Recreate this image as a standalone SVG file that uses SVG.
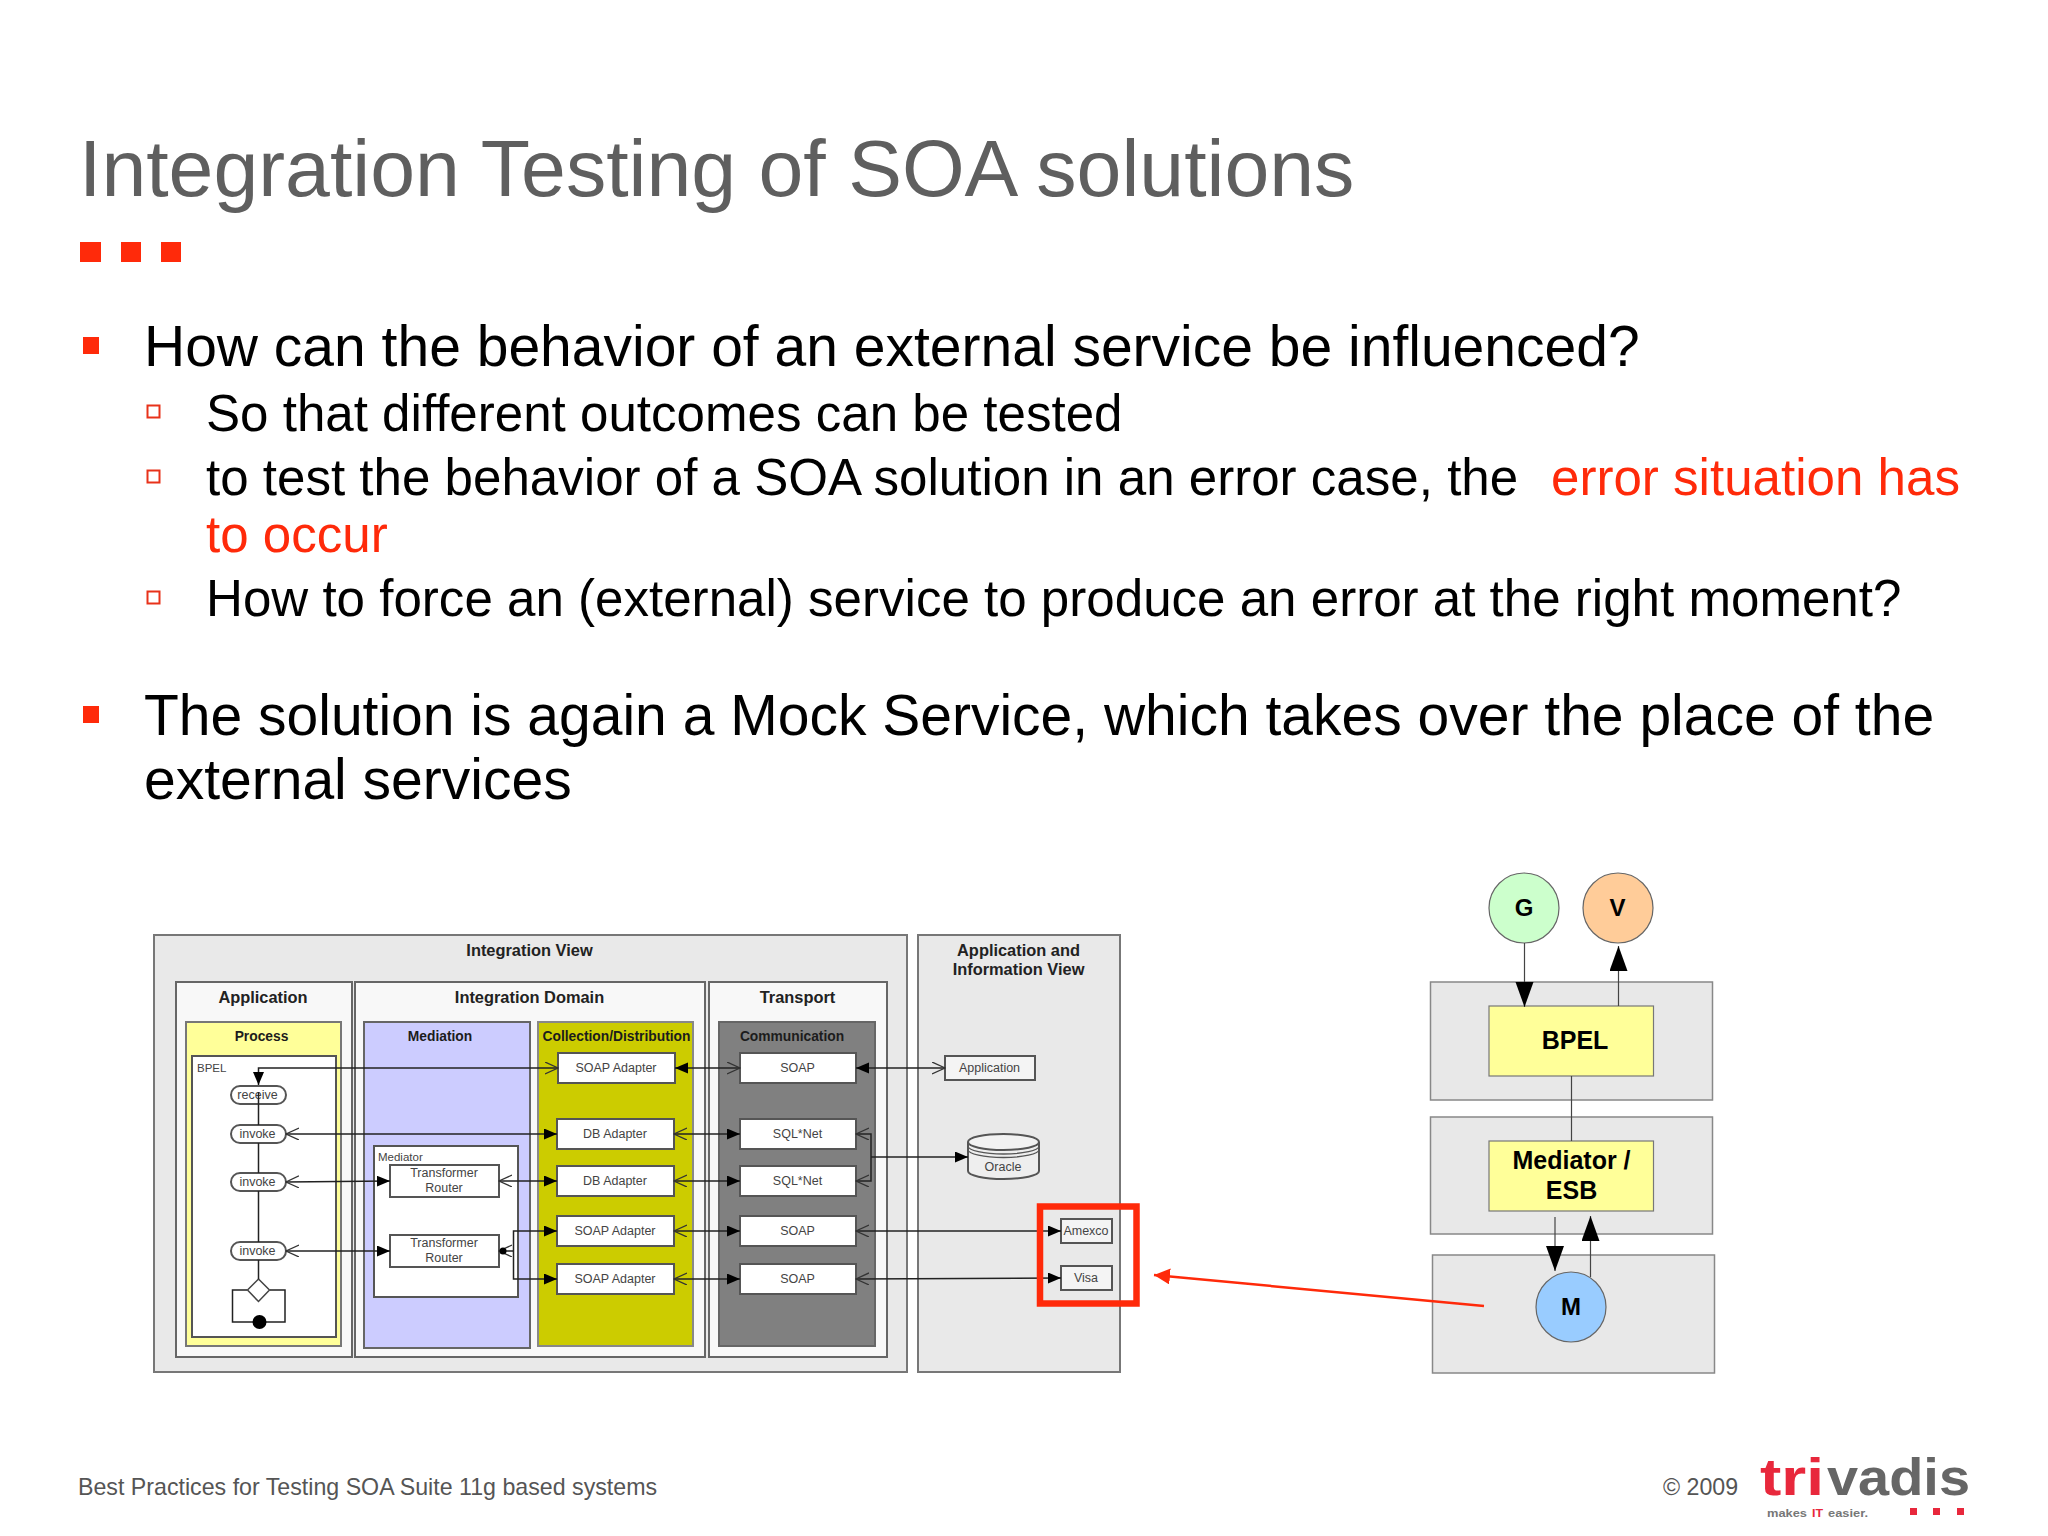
<svg xmlns="http://www.w3.org/2000/svg" width="2048" height="1536" viewBox="0 0 2048 1536">
<style>
text{font-family:"Liberation Sans",Arial,sans-serif}
.title{font-size:80.6px;fill:#5f5f5f}
.b1{font-size:57px;fill:#000}
.b2{font-size:51.1px;fill:#000}
.red{fill:#ff2a0a}
.foot{font-size:23.2px;fill:#555}
.pan{fill:#e9e9e9;stroke:#777;stroke-width:2}
.sub{fill:#f8f8f8;stroke:#666;stroke-width:2}
.box{fill:#fff;stroke:#555;stroke-width:2}
.ibox{fill:#f4f4f4;stroke:#555;stroke-width:2}
.hd{font-size:16.4px;font-weight:bold;fill:#222;text-anchor:middle}
.sh{font-size:13.8px;font-weight:bold;fill:#1c1c1c;text-anchor:middle}
.lb{font-size:12.5px;fill:#444;text-anchor:middle}
.lbl{font-size:11.5px;fill:#444}
.rp{fill:#e8e8e8;stroke:#888;stroke-width:1.5}
.ry{fill:#ffff99;stroke:#777;stroke-width:1.2}
.rc{stroke:#666;stroke-width:1.2}
.rt{font-size:25px;font-weight:bold;fill:#000;text-anchor:middle}
.rs{font-size:24px;font-weight:bold;fill:#000;text-anchor:middle}
.c{fill:none;stroke:#222;stroke-width:1.5}
.rl{fill:none;stroke:#444;stroke-width:1.2}
.logo{font-size:52px;font-weight:bold}
.tag{font-size:11.5px;font-weight:bold}
</style>
<defs>
<marker id="fa" markerUnits="userSpaceOnUse" markerWidth="14" markerHeight="12" refX="13" refY="5.5" orient="auto-start-reverse"><path d="M0 0L13 5.5L0 11z" fill="#000"/></marker>
<marker id="oa" markerUnits="userSpaceOnUse" markerWidth="14" markerHeight="14" refX="13" refY="6" orient="auto-start-reverse"><path d="M0 0L13 6L0 12" fill="none" stroke="#333" stroke-width="1.3"/></marker>
<marker id="ba" markerUnits="userSpaceOnUse" markerWidth="26" markerHeight="20" refX="25" refY="9" orient="auto-start-reverse"><path d="M0 0L25 9L0 18z" fill="#000"/></marker>
<marker id="ra" markerUnits="userSpaceOnUse" markerWidth="18" markerHeight="18" refX="16" refY="8" orient="auto"><path d="M0 0L16 8L0 16z" fill="#ff2a0a"/></marker>
</defs>

<g id="slide-title">
<text class="title" x="79" y="196">Integration Testing of SOA solutions</text>
<rect class="red" x="80" y="242" width="21" height="20"/><rect class="red" x="121" y="242" width="20" height="20"/><rect class="red" x="161" y="242" width="20" height="20"/>
</g>
<g id="slide-text">
<rect class="red" x="83" y="337" width="16" height="17"/>
<text class="b1" x="144" y="366">How can the behavior of an external service be influenced?</text>
<rect x="147.500" y="405.500" width="12" height="12" fill="none" stroke="#e8321a" stroke-width="2"/>
<text class="b2" x="206" y="431">So that different outcomes can be tested</text>
<rect x="147.500" y="470.500" width="12" height="12" fill="none" stroke="#e8321a" stroke-width="2"/>
<text class="b2" x="206" y="495">to test the behavior of a SOA solution in an error case, the</text>
<text class="b2 red" x="1551" y="495" style="fill:#ff2a0a">error situation has</text>
<text class="b2 red" x="206" y="552" style="fill:#ff2a0a">to occur</text>
<rect x="147.500" y="591.500" width="12" height="12" fill="none" stroke="#e8321a" stroke-width="2"/>
<text class="b2" x="206" y="616">How to force an (external) service to produce an error at the right moment?</text>
<rect class="red" x="83" y="706" width="16" height="17"/>
<text class="b1" x="144" y="735">The solution is again a Mock Service, which takes over the place of the</text>
<text class="b1" x="144" y="799">external services</text>
</g>

<g id="integration-view">
<rect class="pan" x="154" y="935" width="753" height="437"/>
<text class="hd" x="529.500" y="956">Integration View</text>
</g>
<g id="application">
<rect class="sub" x="176" y="982" width="176" height="375"/>
<text class="hd" x="263" y="1003">Application</text>
</g>
<g id="integration-domain">
<rect class="sub" x="355" y="982" width="350" height="375"/>
<text class="hd" x="529.500" y="1003">Integration Domain</text>
</g>
<g id="transport">
<rect class="sub" x="709" y="982" width="178" height="375"/>
<text class="hd" x="797.500" y="1003">Transport</text>
</g>
<g id="process">
<rect x="186" y="1022" width="155" height="324" fill="#ffff99" stroke="#777" stroke-width="2"/>
<text class="sh" x="261.500" y="1041">Process</text>
</g>
<g id="bpel-panel">
<rect x="192" y="1056" width="144" height="281" fill="#fff" stroke="#555" stroke-width="2"/>
<text class="lbl" x="197" y="1072">BPEL</text>
</g>
<g id="mediation">
<rect x="364" y="1022" width="166" height="326" fill="#ccccff" stroke="#666" stroke-width="2"/>
<text class="sh" x="440" y="1041">Mediation</text>
</g>
<g id="collection">
<rect x="538" y="1022" width="155" height="324" fill="#cccc00" stroke="#888" stroke-width="2"/>
<text class="sh" x="616.500" y="1041">Collection/Distribution</text>
</g>
<g id="communication">
<rect x="719" y="1022" width="156" height="324" fill="#808080" stroke="#666" stroke-width="2"/>
<text class="sh" x="792" y="1041">Communication</text>
</g>
<g id="mediator">
<rect x="374" y="1146" width="144" height="151" fill="#fff" stroke="#555" stroke-width="2"/>
<text class="lbl" x="378" y="1161">Mediator</text>
</g>
<g id="transformer1"><rect class="box" x="390" y="1165" width="109" height="32"/><text class="lb" x="444" y="1177">Transformer</text><text class="lb" x="444" y="1192">Router</text></g>
<g id="transformer2"><rect class="box" x="390" y="1235" width="109" height="32"/><text class="lb" x="444" y="1247">Transformer</text><text class="lb" x="444" y="1262">Router</text></g>

<g id="receive"><rect class="box" x="231" y="1086" width="55" height="18" rx="9"/><text class="lb" x="257.500" y="1099">receive</text></g>
<g id="invoke1"><rect class="box" x="231" y="1125" width="55" height="18" rx="9"/><text class="lb" x="257.500" y="1138">invoke</text></g>
<g id="invoke2"><rect class="box" x="231" y="1173" width="55" height="18" rx="9"/><text class="lb" x="257.500" y="1186">invoke</text></g>
<g id="invoke3"><rect class="box" x="231" y="1242" width="55" height="18" rx="9"/><text class="lb" x="257.500" y="1255">invoke</text></g>

<g id="adapter1"><rect class="box" x="558" y="1053" width="117" height="30"/><text class="lb" x="616" y="1072">SOAP Adapter</text></g>
<g id="adapter2"><rect class="box" x="557" y="1119" width="117" height="30"/><text class="lb" x="615" y="1138">DB Adapter</text></g>
<g id="adapter3"><rect class="box" x="557" y="1166" width="117" height="30"/><text class="lb" x="615" y="1185">DB Adapter</text></g>
<g id="adapter4"><rect class="box" x="557" y="1216" width="117" height="30"/><text class="lb" x="615" y="1235">SOAP Adapter</text></g>
<g id="adapter5"><rect class="box" x="557" y="1264" width="117" height="30"/><text class="lb" x="615" y="1283">SOAP Adapter</text></g>

<g id="comm1"><rect class="box" x="740" y="1053" width="116" height="30"/><text class="lb" x="797.500" y="1072">SOAP</text></g>
<g id="comm2"><rect class="box" x="740" y="1119" width="116" height="30"/><text class="lb" x="797.500" y="1138">SQL*Net</text></g>
<g id="comm3"><rect class="box" x="740" y="1166" width="116" height="30"/><text class="lb" x="797.500" y="1185">SQL*Net</text></g>
<g id="comm4"><rect class="box" x="740" y="1216" width="116" height="30"/><text class="lb" x="797.500" y="1235">SOAP</text></g>
<g id="comm5"><rect class="box" x="740" y="1264" width="116" height="30"/><text class="lb" x="797.500" y="1283">SOAP</text></g>

<g id="app-info-view">
<rect class="pan" x="918" y="935" width="202" height="437"/>
<text class="hd" x="1018.500" y="956">Application and</text>
<text class="hd" x="1018.500" y="975">Information View</text>
</g>
<g id="app-box"><rect class="ibox" x="945" y="1056" width="90" height="24"/><text class="lb" x="989.500" y="1072">Application</text></g>
<g id="oracle">
<path d="M968 1142V1171C968 1175.500 984 1179 1003.500 1179S1039 1175.500 1039 1171V1142" fill="#eee" stroke="#555" stroke-width="2"/>
<ellipse cx="1003.500" cy="1142" rx="35.500" ry="8" fill="#f2f2f2" stroke="#555" stroke-width="2"/>
<path d="M968 1146C968 1150.500 984 1154 1003.500 1154S1039 1150.500 1039 1146M968 1149.500C968 1154 984 1157.500 1003.500 1157.500S1039 1154 1039 1149.500" fill="none" stroke="#555" stroke-width="1.3"/>
<text class="lb" x="1003" y="1171">Oracle</text>
</g>
<g id="amexco"><rect class="ibox" x="1061" y="1219" width="51" height="24"/><text class="lb" x="1086" y="1235">Amexco</text></g>
<g id="visa"><rect class="ibox" x="1061" y="1266" width="51" height="24"/><text class="lb" x="1086" y="1282">Visa</text></g>

<g id="loop">
<path class="c" d="M247 1290H232.500V1322H285V1290H270"/>
<path d="M258.500 1279L269.500 1290L258.500 1301.500L247.500 1290z" fill="#fff" stroke="#444" stroke-width="1.5"/>
<circle cx="259.500" cy="1322" r="7" fill="#000"/>
</g>

<g id="connectors">
<path class="c" d="M258.500 1092V1125M258.500 1143V1173M258.500 1191V1242M258.500 1260V1279"/>
<path class="c" d="M558 1068H258.500V1085" marker-start="url(#oa)" marker-end="url(#fa)"/>
<line class="c" x1="675" y1="1068" x2="740" y2="1068" marker-start="url(#fa)" marker-end="url(#oa)"/>
<line class="c" x1="856" y1="1068" x2="945" y2="1068" marker-start="url(#fa)" marker-end="url(#oa)"/>
<line class="c" x1="286" y1="1134" x2="557" y2="1134" marker-start="url(#oa)" marker-end="url(#fa)"/>
<line class="c" x1="674" y1="1134" x2="740" y2="1134" marker-start="url(#oa)" marker-end="url(#fa)"/>
<path class="c" d="M856 1134H871V1181H856" marker-start="url(#oa)" marker-end="url(#oa)"/>
<line class="c" x1="871" y1="1157" x2="968" y2="1157" marker-end="url(#fa)"/>
<line class="c" x1="286" y1="1182" x2="390" y2="1181" marker-start="url(#oa)" marker-end="url(#fa)"/>
<line class="c" x1="499" y1="1181" x2="557" y2="1181" marker-start="url(#oa)" marker-end="url(#fa)"/>
<line class="c" x1="674" y1="1181" x2="740" y2="1181" marker-start="url(#oa)" marker-end="url(#fa)"/>
<line class="c" x1="286" y1="1251" x2="390" y2="1251" marker-start="url(#oa)" marker-end="url(#fa)"/>
<line class="c" x1="499" y1="1251" x2="513.500" y2="1251" marker-start="url(#oa)"/>
<circle cx="503" cy="1251" r="3.500" fill="#000"/>
<path class="c" d="M557 1231H513.500V1279H557" marker-start="url(#fa)" marker-end="url(#fa)"/>
<line class="c" x1="674" y1="1231" x2="740" y2="1231" marker-start="url(#oa)" marker-end="url(#fa)"/>
<line class="c" x1="674" y1="1279" x2="740" y2="1279" marker-start="url(#oa)" marker-end="url(#fa)"/>
<line class="c" x1="856" y1="1231" x2="1061" y2="1231" marker-start="url(#oa)" marker-end="url(#fa)"/>
<line class="c" x1="856" y1="1279" x2="1061" y2="1278" marker-start="url(#oa)" marker-end="url(#fa)"/>
</g>

<g id="bpel-layer"><rect class="rp" x="1430.500" y="982" width="282" height="118"/></g>
<g id="mediator-layer"><rect class="rp" x="1430.500" y="1117" width="282" height="117"/></g>
<g id="mock-layer"><rect class="rp" x="1432.500" y="1255" width="282" height="118"/></g>
<g id="node-g"><circle class="rc" cx="1524" cy="908" r="35" fill="#ccffcc"/><text class="rs" x="1524" y="916">G</text></g>
<g id="node-v"><circle class="rc" cx="1618" cy="908" r="35" fill="#ffcc99"/><text class="rs" x="1617.500" y="916">V</text></g>
<g id="node-bpel"><rect class="ry" x="1489" y="1006" width="164.500" height="70"/><text class="rt" x="1575" y="1049">BPEL</text></g>
<g id="node-mediator"><rect class="ry" x="1489" y="1141" width="164.500" height="70"/><text class="rt" x="1571.500" y="1169">Mediator /</text><text class="rt" x="1571.500" y="1199">ESB</text></g>
<g id="node-m"><circle class="rc" cx="1571" cy="1307" r="35" fill="#99ccff"/><text class="rs" x="1571" y="1315">M</text></g>
<g id="right-connectors">
<line class="rl" x1="1524.500" y1="943" x2="1524.500" y2="1007" marker-end="url(#ba)"/>
<line class="rl" x1="1618.500" y1="1006" x2="1618.500" y2="946" marker-end="url(#ba)"/>
<line class="rl" x1="1571.500" y1="1076" x2="1571.500" y2="1141"/>
<line class="rl" x1="1555" y1="1217" x2="1555" y2="1271" marker-end="url(#ba)"/>
<line class="rl" x1="1590.500" y1="1277" x2="1590.500" y2="1216" marker-end="url(#ba)"/>
</g>

<g id="highlight">
<rect x="1040" y="1206.500" width="96.500" height="97" fill="none" stroke="#ff2a0a" stroke-width="6.500"/>
<line x1="1484" y1="1306" x2="1154" y2="1275" stroke="#ff2a0a" stroke-width="2.500" marker-end="url(#ra)"/>
</g>

<g id="footer">
<text class="foot" x="78" y="1495">Best Practices for Testing SOA Suite 11g based systems</text>
<text class="foot" x="1663" y="1495">© 2009</text>
</g>
<g id="logo">
<text class="logo" x="1760" y="1495" textLength="64" lengthAdjust="spacingAndGlyphs" fill="#e8283c">tri</text>
<text class="logo" x="1827" y="1495" textLength="143" lengthAdjust="spacingAndGlyphs" fill="#666">vadis</text>
<text class="tag" x="1767" y="1517" textLength="40" lengthAdjust="spacingAndGlyphs" fill="#777">makes</text>
<text class="tag" x="1812" y="1517" textLength="11" lengthAdjust="spacingAndGlyphs" fill="#e8283c">IT</text>
<text class="tag" x="1828" y="1517" textLength="40" lengthAdjust="spacingAndGlyphs" fill="#777">easier.</text>
<rect x="1910" y="1508" width="7" height="7" fill="#e8283c"/><rect x="1933" y="1508" width="7" height="7" fill="#e8283c"/><rect x="1957" y="1508" width="7" height="7" fill="#e8283c"/>
</g>
</svg>
